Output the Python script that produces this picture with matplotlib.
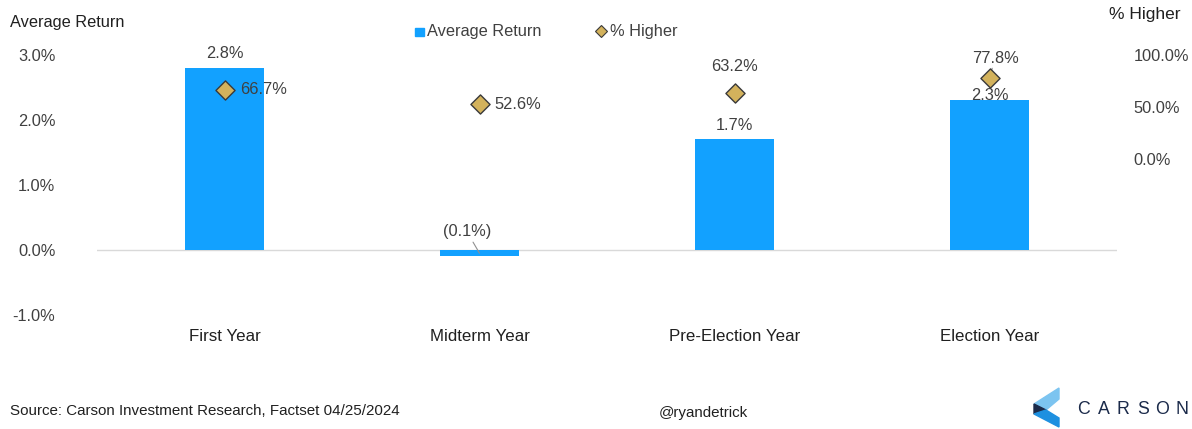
import matplotlib
matplotlib.use('Agg')
import matplotlib.pyplot as plt
from matplotlib.patches import Polygon
import numpy as np

plt.rcParams['font.family'] = ['Liberation Sans', 'DejaVu Sans']

categories = ['First Year', 'Midterm Year', 'Pre-Election Year', 'Election Year']
avg_return = [2.8, -0.1, 1.7, 2.3]
pct_higher = [66.7, 52.6, 63.2, 77.8]
avg_labels = ['2.8%', '(0.1%)', '1.7%', '2.3%']
higher_labels = ['66.7%', '52.6%', '63.2%', '77.8%']
left_ticks = [-1.0, 0.0, 1.0, 2.0, 3.0]
right_ticks = [0, 50, 100]

BAR = '#12A1FF'
GOLD = '#D3B25C'
TXT = '#404040'
FS = 11.8

fig = plt.figure(figsize=(11.92, 4.29), dpi=100)
ax = fig.add_axes([0.0814, 0.2657, 0.8557, 0.6063])
x = np.arange(len(categories))

ax.bar(x, avg_return, width=0.31, color=BAR, zorder=2)
ax.set_xlim(-0.5, len(categories) - 0.5)
ax.set_ylim(-1, 3)
ax.axhline(0, color='#D9D9D9', linewidth=1, zorder=1)
for s in ax.spines.values():
    s.set_visible(False)
ax.set_yticks(left_ticks)
ax.set_yticklabels([f'{t:.1f}%' for t in left_ticks])
ax.tick_params(axis='y', length=0, pad=30, labelsize=FS, labelcolor=TXT)
ax.set_xticks(x)
ax.set_xticklabels(categories)
ax.tick_params(axis='x', length=0, pad=10, labelsize=12.2, labelcolor='#202020')

ax2 = ax.twinx()
ax2.set_ylim(-150, 100)
ax2.scatter(x, pct_higher, marker='D', s=95, color=GOLD, edgecolor='#3a3a3a',
            linewidth=1, zorder=6)
for s in ax2.spines.values():
    s.set_visible(False)
ax2.set_yticks(right_ticks)
ax2.set_yticklabels([f'{t:.1f}%' for t in right_ticks])
ax2.tick_params(axis='y', length=0, pad=12, labelsize=FS, labelcolor=TXT)

# bar value labels (drawn on ax2 so the diamonds can sit over them)
bar_offsets = [(0, 5), None, (0, 5), (0, -2)]
for i, (v, lab) in enumerate(zip(avg_return, avg_labels)):
    yv = (v + 1) / 4 * 250 - 150
    if v >= 0:
        ax2.annotate(lab, (x[i], yv), xytext=bar_offsets[i], textcoords='offset points',
                     ha='center', va='bottom', fontsize=FS, color=TXT, zorder=3)
    else:
        ax2.annotate(lab, (x[i], (v / 2 + 1) / 4 * 250 - 150), xytext=(-9, 10),
                     textcoords='offset points', ha='center', va='bottom', fontsize=FS,
                     color=TXT, zorder=3,
                     arrowprops=dict(arrowstyle='-', color='#909090', lw=0.8,
                                     shrinkA=0, shrinkB=0))

# % higher labels
ax2.annotate(higher_labels[0], (x[0], pct_higher[0]), xytext=(11, 0),
             textcoords='offset points', ha='left', va='center', fontsize=FS, color=TXT, zorder=5)
ax2.annotate(higher_labels[1], (x[1], pct_higher[1]), xytext=(11, 0),
             textcoords='offset points', ha='left', va='center', fontsize=FS, color=TXT, zorder=5)
ax2.annotate(higher_labels[2], (x[2], pct_higher[2]), xytext=(0, 14),
             textcoords='offset points', ha='center', va='bottom', fontsize=FS, color=TXT, zorder=5)
ax2.annotate(higher_labels[3], (x[3], pct_higher[3]), xytext=(4, 9),
             textcoords='offset points', ha='center', va='bottom', fontsize=FS, color=TXT, zorder=5,
             arrowprops=dict(arrowstyle='-', color='#909090', lw=0.8, shrinkA=0, shrinkB=0))

# axis titles
fig.text(0.008, 0.948, 'Average Return', fontsize=FS, color='#202020', ha='left', va='center')
fig.text(0.99, 0.967, '% Higher', fontsize=12.5, color='#202020', ha='right', va='center')

# legend
fig.patches.append(Polygon([[0.3485, 0.915], [0.3555, 0.915], [0.3555, 0.935], [0.3485, 0.935]],
                           closed=True, transform=fig.transFigure, color=BAR))
fig.text(0.3585, 0.926, 'Average Return', fontsize=FS, color=TXT, ha='left', va='center')
fig.lines.append(plt.Line2D([0.5045], [0.927], transform=fig.transFigure, marker='D',
                            markersize=6, color=GOLD, markeredgecolor='#3a3a3a',
                            markeredgewidth=0.8, linestyle='none'))
fig.text(0.5115, 0.926, '% Higher', fontsize=FS, color=TXT, ha='left', va='center')

# footer
fig.text(0.008, 0.042, 'Source: Carson Investment Research, Factset 04/25/2024',
         fontsize=10.9, color='#202020', ha='left', va='center')
fig.text(0.590, 0.038, '@ryandetrick', fontsize=10.9, color='#202020', ha='center', va='center')

# Carson logo
W, H = 1192.0, 429.0
def P(pts, c):
    fig.patches.append(Polygon([[px / W, 1 - py / H] for px, py in pts], closed=True,
                               transform=fig.transFigure, color=c, zorder=5))
P([(1059, 388), (1034, 404), (1046, 410), (1059, 399)], '#7CC4F0')
P([(1034, 404), (1046, 410), (1034, 414)], '#1B2A4A')
P([(1034, 414), (1046, 410), (1059, 418), (1059, 427)], '#1E90E0')
for i, ch in enumerate('CARSON'):
    fig.text((1084 + i * 19.6) / W, 1 - 409 / H, ch, fontsize=12.8, color='#1B2A4A',
             ha='center', va='center')

fig.savefig('out.png', dpi=100)
